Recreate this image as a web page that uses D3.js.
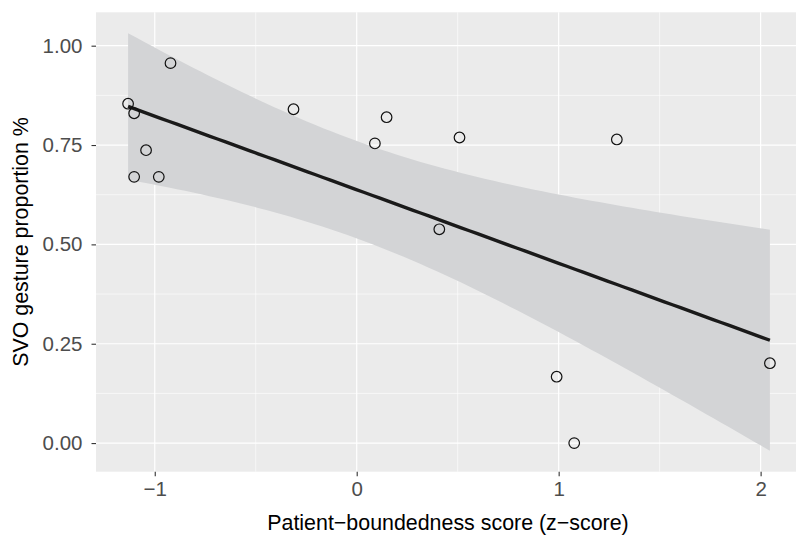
<!DOCTYPE html>
<html>
<head>
<meta charset="utf-8">
<script src="https://cdn.jsdelivr.net/npm/d3@7"></script>
<style>
  body { margin: 0; background: #fff; }
  svg { display: block; font-family: "Liberation Sans", Arial, sans-serif; }
</style>
</head>
<body>
<div id="chart"></div>
<script>
// patient-boundedness z-scores and SVO gesture proportions
const boundedness = [-1.132, -1.102, -0.922, -1.043, -1.102, -0.980, -0.313, 0.148, 0.090, 0.509, 1.288, 0.409, 0.990, 1.077, 2.046];
const svoProp = [0.854, 0.830, 0.956, 0.737, 0.670, 0.670, 0.840, 0.820, 0.754, 0.769, 0.764, 0.538, 0.167, 0.000, 0.201];

const xTicks = [-1, 0, 1, 2];
const xTickLabels = ['\u22121', '0', '1', '2'];
const xMinor = [-0.5, 0.5, 1.5];
const yTicks = [0, 0.25, 0.5, 0.75, 1];
const yTickLabels = ['0.00', '0.25', '0.50', '0.75', '1.00'];
const yMinor = [0.125, 0.375, 0.625, 0.875];

const W = 796, H = 535;
const panel = {left: 96, top: 12.3, right: 802, bottom: 471.7};

const pts = boundedness.map((x, i) => ({x, y: svoProp[i]}));

// linear fit with 95% confidence band, like geom_smooth(method = "lm")
function lmFit(data) {
    const n = data.length;
    const mx = d3.mean(data, d => d.x), my = d3.mean(data, d => d.y);
    const sxx = d3.sum(data, d => (d.x - mx) ** 2);
    const sxy = d3.sum(data, d => (d.x - mx) * (d.y - my));
    const b = sxy / sxx, a = my - b * mx;
    const sse = d3.sum(data, d => (d.y - a - b * d.x) ** 2);
    const s = Math.sqrt(sse / (n - 2));
    const t = 2.160; // qt(0.975, 13)
    const [x0, x1] = d3.extent(data, d => d.x);
    return d3.range(80).map(i => {
        const x = x0 + (x1 - x0) * i / 79;
        const fit = a + b * x;
        const se = s * Math.sqrt(1 / n + (x - mx) ** 2 / sxx);
        return {x, fit, lo: fit - t * se, hi: fit + t * se};
    });
}
const band = lmFit(pts);

const xr = d3.extent(pts, d => d.x);
const yr = [Math.min(d3.min(pts, d => d.y), d3.min(band, d => d.lo)), Math.max(d3.max(pts, d => d.y), d3.max(band, d => d.hi))];
const xe = (xr[1] - xr[0]) * 0.05, ye = (yr[1] - yr[0]) * 0.05;

const x = d3.scaleLinear().domain([xr[0] - xe, xr[1] + xe]).range([panel.left, panel.right]);
const y = d3.scaleLinear().domain([yr[0] - ye, yr[1] + ye]).range([panel.bottom, panel.top]);

const svg = d3.select('#chart').append('svg').attr('width', W).attr('height', H);

svg.append('rect').attr('x', panel.left).attr('y', panel.top)
    .attr('width', panel.right - panel.left).attr('height', panel.bottom - panel.top)
    .attr('fill', '#EBEBEB');

const grid = svg.append('g');
grid.selectAll('.vmin').data(xMinor).enter().append('line')
    .attr('x1', d => x(d)).attr('x2', d => x(d)).attr('y1', panel.top).attr('y2', panel.bottom)
    .attr('stroke', '#fff').attr('stroke-width', 0.6);
grid.selectAll('.hmin').data(yMinor).enter().append('line')
    .attr('y1', d => y(d)).attr('y2', d => y(d)).attr('x1', panel.left).attr('x2', panel.right)
    .attr('stroke', '#fff').attr('stroke-width', 0.6);
grid.selectAll('.vmaj').data(xTicks).enter().append('line')
    .attr('x1', d => x(d)).attr('x2', d => x(d)).attr('y1', panel.top).attr('y2', panel.bottom)
    .attr('stroke', '#fff').attr('stroke-width', 1.2);
grid.selectAll('.hmaj').data(yTicks).enter().append('line')
    .attr('y1', d => y(d)).attr('y2', d => y(d)).attr('x1', panel.left).attr('x2', panel.right)
    .attr('stroke', '#fff').attr('stroke-width', 1.2);

// confidence band
svg.append('path').datum(band)
    .attr('d', d3.area().x(d => x(d.x)).y0(d => y(d.lo)).y1(d => y(d.hi)))
    .attr('fill', '#D3D4D6');

// fitted line
svg.append('path').datum(band)
    .attr('d', d3.line().x(d => x(d.x)).y(d => y(d.fit)))
    .attr('fill', 'none').attr('stroke', '#1a1a1a').attr('stroke-width', 3.4);

svg.selectAll('.pt').data(pts).enter().append('circle')
    .attr('cx', d => x(d.x)).attr('cy', d => y(d.y)).attr('r', 5.3)
    .attr('fill', 'none').attr('stroke', '#111').attr('stroke-width', 1.2);

// axes
const xAxis = d3.axisBottom(x).tickValues(xTicks).tickSize(4.5).tickPadding(5)
    .tickFormat((d, i) => xTickLabels[i]);
const gx = svg.append('g').attr('transform', `translate(0,${panel.bottom})`).call(xAxis);
gx.select('.domain').remove();
gx.selectAll('line').attr('stroke', '#333').attr('stroke-width', 1.1);
gx.selectAll('text').attr('fill', '#4D4D4D').style('font-size', '20.5px').style('font-family', '"Liberation Sans", Arial, sans-serif');

const yAxis = d3.axisLeft(y).tickValues(yTicks).tickSize(4.5).tickPadding(9)
    .tickFormat((d, i) => yTickLabels[i]);
const gy = svg.append('g').attr('transform', `translate(${panel.left},0)`).call(yAxis);
gy.select('.domain').remove();
gy.selectAll('line').attr('stroke', '#333').attr('stroke-width', 1.1);
gy.selectAll('text').attr('fill', '#4D4D4D').style('font-size', '20.5px').style('font-family', '"Liberation Sans", Arial, sans-serif');

svg.append('text').attr('x', 448).attr('y', 530).attr('text-anchor', 'middle')
    .style('font-size', '21.4px').attr('fill', '#000')
    .text('Patient\u2212boundedness score (z\u2212score)');

svg.append('text').attr('transform', `translate(28,${(panel.top + panel.bottom) / 2}) rotate(-90)`)
    .attr('text-anchor', 'middle').style('font-size', '21.4px').attr('fill', '#000')
    .text('SVO gesture proportion %');
</script>
</body>
</html>
